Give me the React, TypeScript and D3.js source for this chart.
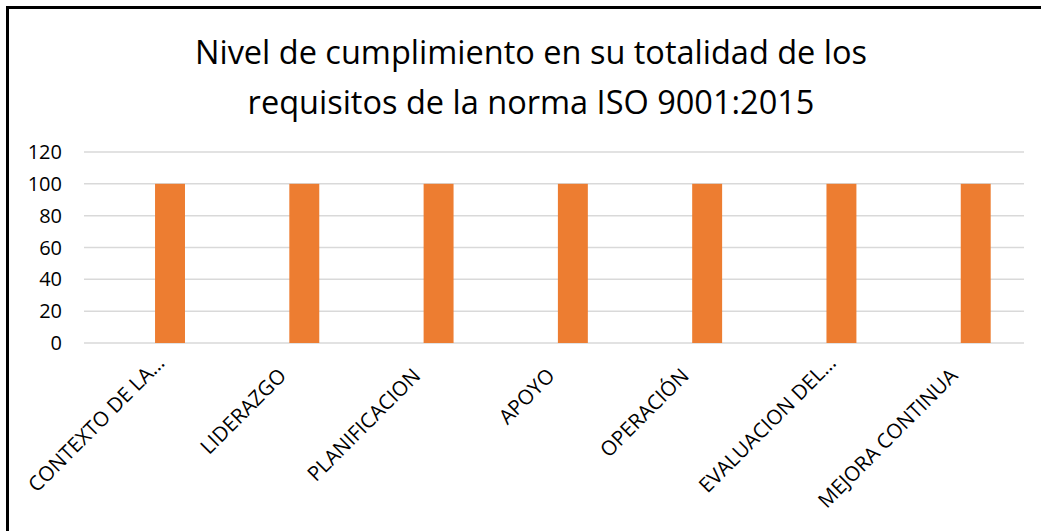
import { useRef, useEffect } from "react";
import * as d3 from "d3";

const categories = [
  "CONTEXTO DE LA…",
  "LIDERAZGO",
  "PLANIFICACION",
  "APOYO",
  "OPERACIÓN",
  "EVALUACION DEL…",
  "MEJORA CONTINUA",
];
const values = [100, 100, 100, 100, 100, 100, 100];
const yTicks = [0, 20, 40, 60, 80, 100, 120];
const titleLines = [
  "Nivel de cumplimiento en su totalidad de los",
  "requisitos de la norma ISO 9001:2015",
];

const W = 1041;
const H = 531;
const FONT = "'Open Sans', 'Noto Sans', sans-serif";

export default function App() {
  const svgRef = useRef<SVGSVGElement>(null);

  useEffect(() => {
    if (!svgRef.current) return;
    const svg = d3.select(svgRef.current);
    svg.selectAll("*").remove();

    const plot = { left: 84, right: 1024, top: 152, bottom: 343 };

    // frame (right and bottom edges fall outside the picture)
    svg.append("rect")
      .attr("x", 7.5).attr("y", 7.5)
      .attr("width", W + 40).attr("height", H + 40)
      .attr("fill", "#fff")
      .attr("stroke", "#000")
      .attr("stroke-width", 3);

    // Title
    svg.append("g")
      .selectAll("text")
      .data(titleLines)
      .join("text")
      .attr("x", 531)
      .attr("y", (_, i) => 64 + i * 50)
      .attr("text-anchor", "middle")
      .attr("font-family", FONT)
      .attr("font-size", "32.5px")
      .attr("fill", "#000")
      .text(d => d);

    const x = d3.scaleBand<string>()
      .domain(categories)
      .range([plot.left, plot.right])
      .padding(0);

    const y = d3.scaleLinear()
      .domain([0, 120])
      .range([plot.bottom, plot.top]);

    // Grid lines
    svg.append("g")
      .selectAll("line")
      .data(yTicks)
      .join("line")
      .attr("x1", plot.left)
      .attr("x2", plot.right)
      .attr("y1", d => y(d))
      .attr("y2", d => y(d))
      .attr("stroke", "#d9d9d9")
      .attr("stroke-width", 1.5);

    // Y tick labels
    svg.append("g")
      .selectAll("text")
      .data(yTicks)
      .join("text")
      .attr("x", 62)
      .attr("y", d => y(d))
      .attr("dy", "0.35em")
      .attr("text-anchor", "end")
      .attr("font-family", FONT)
      .attr("font-size", "20px")
      .attr("fill", "#000")
      .text(d => d);

    // Bars
    const bw = x.bandwidth();
    svg.append("g")
      .selectAll("rect")
      .data(categories)
      .join("rect")
      .attr("x", d => (x(d) ?? 0) + bw * 0.529)
      .attr("width", bw * 0.223)
      .attr("y", (_, i) => y(values[i]))
      .attr("height", (_, i) => y(0) - y(values[i]))
      .attr("fill", "#ED7D31");

    // X labels, rotated -45
    svg.append("g")
      .selectAll("text")
      .data(categories)
      .join("text")
      .attr("transform", d => {
        const cx = (x(d) ?? 0) + bw / 2 + 2;
        return `translate(${cx},377) rotate(-45)`;
      })
      .attr("dx", d => (d.endsWith("…") ? 18 : 0))
      .attr("text-anchor", "end")
      .attr("font-family", FONT)
      .attr("font-size", "20.5px")
      .attr("fill", "#000")
      .text(d => d);
  }, []);

  return (
    <svg
      ref={svgRef}
      width={W}
      height={H}
      viewBox={`0 0 ${W} ${H}`}
      style={{ position: "absolute", left: 0, top: 0, background: "#fff" }}
    />
  );
}
